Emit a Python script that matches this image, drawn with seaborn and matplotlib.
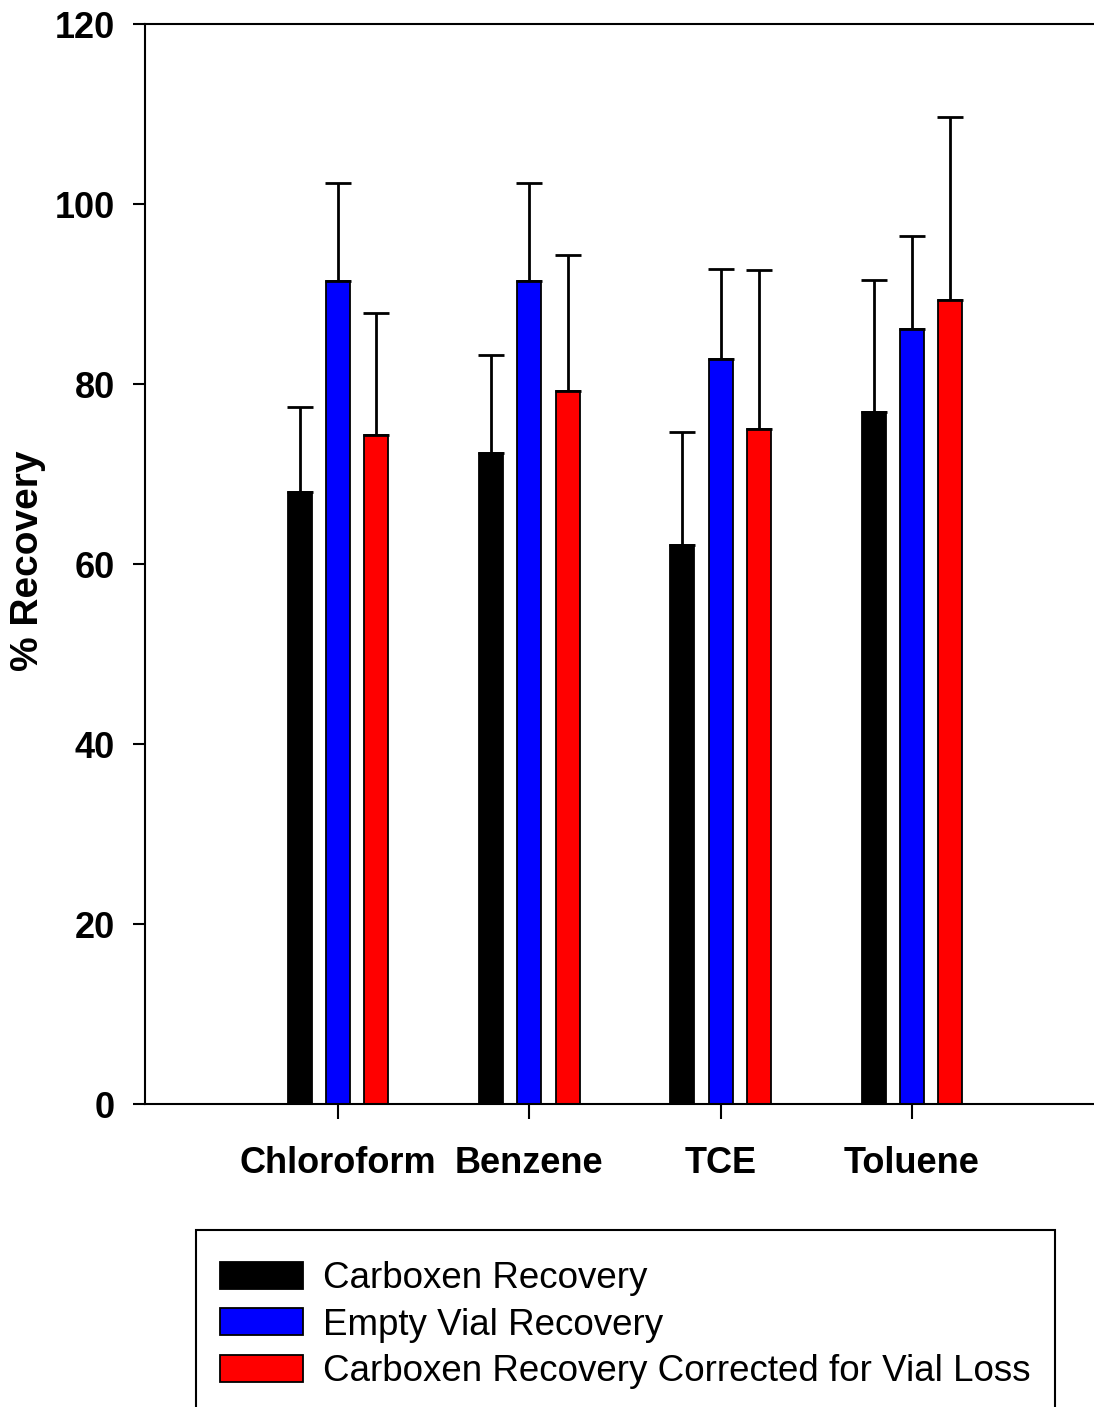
import matplotlib
matplotlib.use("Agg")
import matplotlib.pyplot as plt
import matplotlib.patches as mpatches
import seaborn as sns
import pandas as pd
import numpy as np

compounds = ["Chloroform", "Benzene", "TCE", "Toluene"]
positions = [1, 2, 3, 4]
series = ["Carboxen Recovery", "Empty Vial Recovery",
          "Carboxen Recovery Corrected for Vial Loss"]
carboxen = [68.0, 72.3, 62.1, 76.9]
carboxen_err = [9.4, 10.9, 12.6, 14.7]
empty = [91.4, 91.4, 82.8, 86.1]
empty_err = [10.9, 10.9, 10.0, 10.3]
corrected = [74.3, 79.2, 75.0, 89.3]
corrected_err = [13.6, 15.1, 17.7, 20.4]
colors = ["#000000", "#0000ff", "#ff0000"]
yticks = [0, 20, 40, 60, 80, 100, 120]

sns.set_style("ticks")
plt.rcParams["font.family"] = ["Liberation Sans", "DejaVu Sans"]
plt.rcParams["text.color"] = "black"
plt.rcParams["axes.labelcolor"] = "black"
plt.rcParams["xtick.color"] = "black"
plt.rcParams["ytick.color"] = "black"

values = [carboxen, empty, corrected]
errors = [carboxen_err, empty_err, corrected_err]
df = pd.DataFrame({
    "pos": positions * 3,
    "value": carboxen + empty + corrected,
    "series": [s for s in series for _ in positions],
})

fig = plt.figure(figsize=(10.94, 14.07), dpi=100)
W, H = 1094, 1407
unit = 191.33
x0 = -0.0087
ax = fig.add_axes([145 / W, (H - 1104) / H, (5 - x0) * unit / W, 1080 / H])

sns.barplot(data=df, x="pos", y="value", hue="series", hue_order=series,
            palette=colors, native_scale=True, width=0.6, gap=0.375,
            edgecolor="black", linewidth=1.3, errorbar=None, legend=False,
            saturation=1, ax=ax)

for cont, err in zip(ax.containers, errors):
    xs = [b.get_x() + b.get_width() / 2 for b in cont]
    hs = [b.get_height() for b in cont]
    ax.errorbar(xs, hs, yerr=[np.zeros(len(err)), err], fmt="none",
                ecolor="black", elinewidth=2.0, capsize=9.5, capthick=2.0,
                zorder=1)

ax.set_xlim(x0, 5)
ax.set_ylim(0, 120)
ax.set_xticks(positions)
ax.set_xticklabels(compounds, fontsize=26, fontweight="bold", color="black")
ax.set_yticks(yticks)
ax.set_yticklabels([str(t) for t in yticks], fontsize=26, fontweight="bold",
                   color="black")
ax.set_xlabel("")
ax.set_ylabel("% Recovery", fontsize=28, fontweight="bold", color="black")
ax.yaxis.set_label_coords((46 - 145) / ((5 - x0) * unit), 0.503)
ax.tick_params(axis="y", direction="out", length=8.5, width=1.5, pad=13,
               colors="black")
ax.tick_params(axis="x", direction="out", length=11, width=1.5, pad=19,
               colors="black")
for s in ["left", "bottom", "top", "right"]:
    ax.spines[s].set_visible(True)
    ax.spines[s].set_linewidth(1.5)
    ax.spines[s].set_color("black")

# legend frame (open at the bottom, extends past the figure edge)
frame = mpatches.Rectangle((196 / W, -0.05), (1055 - 196) / W,
                           (H - 1230) / H + 0.05, transform=fig.transFigure,
                           facecolor="white", edgecolor="black",
                           linewidth=1.5, zorder=1)
fig.add_artist(frame)

fs = 26.5
pad_px = 0.85 * fs * 100 / 72
handles = [mpatches.Patch(facecolor=c, edgecolor="black", linewidth=1.3)
           for c in colors]
leg = fig.legend(handles, series, loc="upper left",
                 bbox_to_anchor=((220 - pad_px) / W, 1 - 1230 / H),
                 bbox_transform=fig.transFigure, fontsize=fs,
                 frameon=False,
                 handlelength=2.25, handleheight=0.75, handletextpad=0.55,
                 labelspacing=0.31, borderpad=0.85, borderaxespad=0)
leg.set_zorder(2)
for t in leg.get_texts():
    t.set_color("black")

fig.savefig("out.png", dpi=100)
